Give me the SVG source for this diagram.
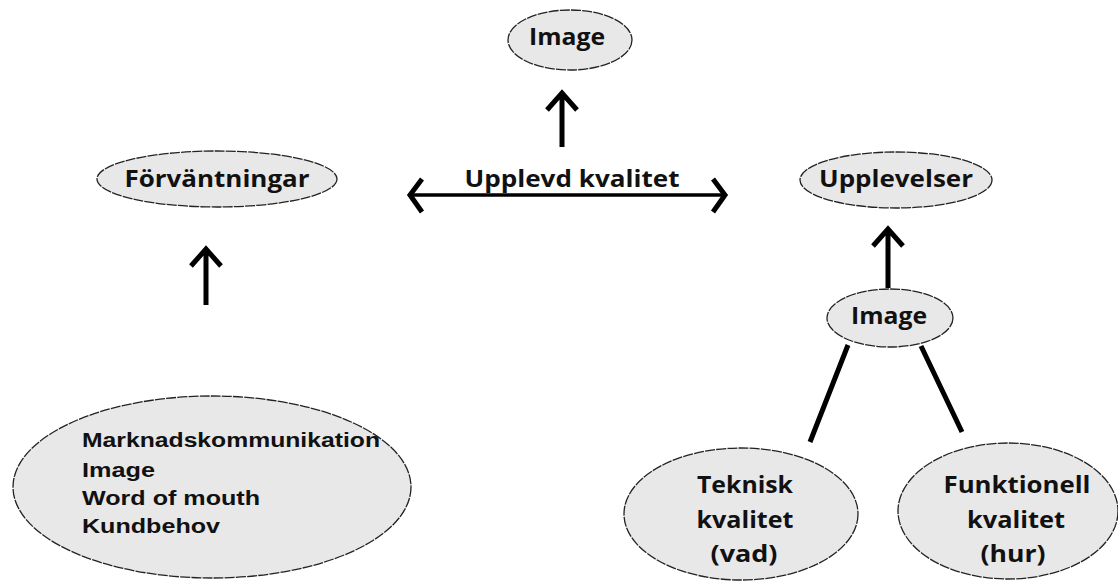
<svg xmlns="http://www.w3.org/2000/svg" width="1118" height="581" viewBox="0 0 1118 581">
<style>
.n{fill:#e8e8e8;stroke:#222;stroke-width:1.3;stroke-dasharray:10 1.2}
.t{font-family:"Open Sans","DejaVu Sans",sans-serif;font-weight:bold;font-size:22.5px;fill:#111;text-anchor:middle}
.a{font-family:"Liberation Sans",Arial,sans-serif;font-weight:bold;font-size:20px;fill:#111}
.c{fill:none;stroke:#000;stroke-width:5;stroke-linecap:butt;stroke-linejoin:miter}
.c2{fill:none;stroke:#000;stroke-width:3.5}
</style>
<rect width="1118" height="581" fill="#fff"/>
<g id="connectors">
<path class="c" d="M562 147V93M547 110L562 93L577 110"/>
<path class="c" d="M206 305V251M191 266L206 249L221 266"/>
<path class="c" d="M888 288V231M873 246L888 229L903 246"/>
<path class="c2" d="M410 195H725"/>
<path class="c" d="M422 179L410 195L422 212M713 179L725 195L713 212"/>
<path class="c" d="M848 345L810 442M921 346L962 432"/>
</g>
<g id="image-top">
<ellipse class="n" cx="570" cy="40" rx="62" ry="30"/>
<text class="t" x="567" y="45" textLength="76" lengthAdjust="spacingAndGlyphs">Image</text>
</g>
<g id="upplevd">
<text class="t" x="572" y="187" textLength="215" lengthAdjust="spacingAndGlyphs">Upplevd kvalitet</text>
</g>
<g id="forvantningar">
<ellipse class="n" cx="217" cy="179" rx="120" ry="28"/>
<text class="t" x="217" y="187" textLength="185" lengthAdjust="spacingAndGlyphs">Förväntningar</text>
</g>
<g id="upplevelser">
<ellipse class="n" cx="896" cy="180" rx="96" ry="28"/>
<text class="t" x="896" y="187" textLength="154" lengthAdjust="spacingAndGlyphs">Upplevelser</text>
</g>
<g id="image-low">
<ellipse class="n" cx="890" cy="318" rx="63" ry="29"/>
<text class="t" x="889" y="324" textLength="76" lengthAdjust="spacingAndGlyphs">Image</text>
</g>
<g id="faktorer">
<ellipse class="n" cx="212" cy="487" rx="199" ry="91"/>
<text class="a" x="82" y="447" textLength="298" lengthAdjust="spacingAndGlyphs">Marknadskommunikation</text>
<text class="a" x="82" y="477" textLength="73" lengthAdjust="spacingAndGlyphs">Image</text>
<text class="a" x="82" y="505" textLength="178" lengthAdjust="spacingAndGlyphs">Word of mouth</text>
<text class="a" x="82" y="533" textLength="138" lengthAdjust="spacingAndGlyphs">Kundbehov</text>
</g>
<g id="teknisk">
<ellipse class="n" cx="741" cy="514" rx="117" ry="66"/>
<text class="t" x="745" y="493" textLength="96" lengthAdjust="spacingAndGlyphs">Teknisk</text>
<text class="t" x="745" y="528" textLength="97" lengthAdjust="spacingAndGlyphs">kvalitet</text>
<text class="t" x="744" y="562" textLength="67" lengthAdjust="spacingAndGlyphs">(vad)</text>
</g>
<g id="funktionell">
<ellipse class="n" cx="1008" cy="511" rx="110" ry="68"/>
<text class="t" x="1017" y="493" textLength="147" lengthAdjust="spacingAndGlyphs">Funktionell</text>
<text class="t" x="1016" y="528" textLength="98" lengthAdjust="spacingAndGlyphs">kvalitet</text>
<text class="t" x="1013" y="562" textLength="65" lengthAdjust="spacingAndGlyphs">(hur)</text>
</g>
</svg>
